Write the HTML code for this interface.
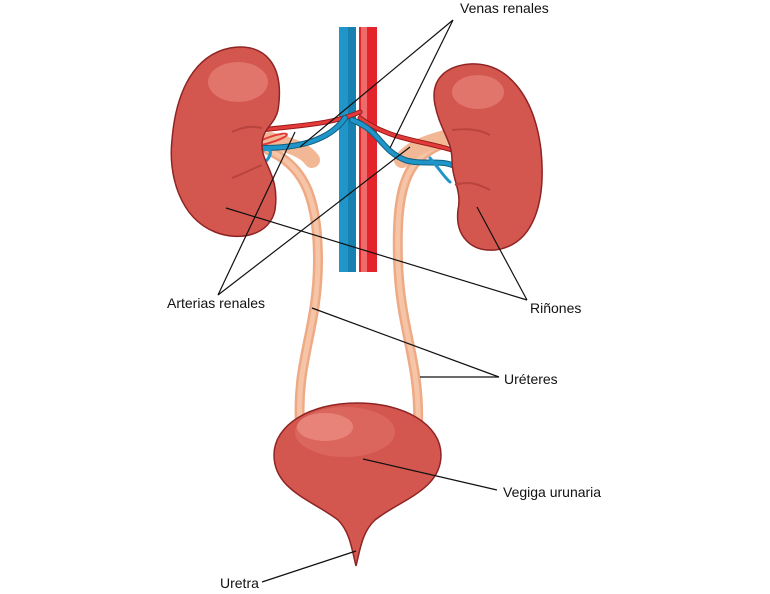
<!DOCTYPE html>
<html><head><meta charset="utf-8"><style>
html,body{margin:0;padding:0;background:#fff;width:770px;height:594px;overflow:hidden}
text{font-family:"Liberation Sans",sans-serif;font-size:14px;fill:#111}
</style></head><body>
<svg width="770" height="594" viewBox="0 0 770 594" xmlns="http://www.w3.org/2000/svg">
<!-- ureters -->
<g fill="none" stroke-linecap="round">
<path d="M268,150 C300,165 318,190 318,260 C318,330 296,360 300,425" stroke="#eeaa85" stroke-width="10"/>
<path d="M268,150 C300,165 318,190 318,260 C318,330 296,360 300,425" stroke="#f6c4a6" stroke-width="5"/>
<path d="M440,145 C405,160 396,190 398,260 C400,330 420,360 418,425" stroke="#eeaa85" stroke-width="10"/>
<path d="M440,145 C405,160 396,190 398,260 C400,330 420,360 418,425" stroke="#f6c4a6" stroke-width="5"/>
<path d="M270,140 C290,145 305,150 312,160" stroke="#f2b896" stroke-width="16"/>
<path d="M445,138 C420,145 410,150 402,160" stroke="#f2b896" stroke-width="16"/>
</g>
<!-- vessels -->
<rect x="339" y="27" width="17" height="245" fill="#1f95c9"/>
<rect x="348" y="27" width="8" height="245" fill="#1680b0"/>
<rect x="359" y="27" width="18" height="245" fill="#e3242b"/>
<rect x="361" y="27" width="6" height="245" fill="#ef6a6a"/>
<g fill="none" stroke-linecap="round">
<path d="M262,130 C300,125 330,125 360,112" stroke="#9a1a1a" stroke-width="5"/>
<path d="M262,130 C300,125 330,125 360,112" stroke="#e33a3a" stroke-width="3"/>
<path d="M262,140 C290,128 300,135 262,145" stroke="#e33a3a" stroke-width="2"/>
<path d="M360,118 C390,140 420,140 452,150" stroke="#9a1a1a" stroke-width="5"/>
<path d="M360,118 C390,140 420,140 452,150" stroke="#e33a3a" stroke-width="3"/>
<path d="M263,148 C300,148 330,140 345,118" stroke="#10607f" stroke-width="6"/>
<path d="M263,148 C300,148 330,140 345,118" stroke="#1f95c9" stroke-width="4"/>
<path d="M263,150 C275,147 270,158 265,162" stroke="#1f95c9" stroke-width="3"/>
<path d="M352,120 C380,130 380,150 405,160 C420,165 440,160 452,165" stroke="#10607f" stroke-width="6"/>
<path d="M352,120 C380,130 380,150 405,160 C420,165 440,160 452,165" stroke="#1f95c9" stroke-width="4"/>
<path d="M430,158 C440,170 445,178 450,182" stroke="#1f95c9" stroke-width="3"/>
</g>
<!-- left kidney -->
<path d="M230,48 C265,42 285,65 278,110 C275,125 262,128 262,145 C262,165 280,175 275,210 C270,235 240,242 215,232 C180,218 168,175 172,140 C176,90 195,55 230,48 Z" fill="#d4574f" stroke="#8f2424" stroke-width="1.5"/>
<ellipse cx="238" cy="82" rx="30" ry="20" fill="#e37970" opacity="0.85"/>
<path d="M262,128 C250,125 240,128 232,132 M262,165 C250,170 240,175 232,178" stroke="#b8443d" stroke-width="2" fill="none"/>
<!-- right kidney -->
<path d="M470,64 C510,62 535,100 541,150 C546,200 535,245 495,250 C470,252 455,235 458,210 C462,190 452,180 452,160 C452,140 440,130 435,105 C430,80 445,66 470,64 Z" fill="#d4574f" stroke="#8f2424" stroke-width="1.5"/>
<ellipse cx="478" cy="92" rx="26" ry="17" fill="#e37970" opacity="0.85"/>
<path d="M452,130 C470,128 480,130 490,135 M455,185 C470,180 480,185 490,190" stroke="#b8443d" stroke-width="2" fill="none"/>
<!-- bladder -->
<path d="M357,403 C405,403 441,425 441,455 C441,490 400,500 375,520 C362,532 360,550 356,566 C352,550 350,532 338,520 C312,500 274,490 274,455 C274,425 310,403 357,403 Z" fill="#d4574f" stroke="#8f2424" stroke-width="1.5"/>
<ellipse cx="345" cy="432" rx="50" ry="25" fill="#dc6a61" opacity="0.8"/>
<ellipse cx="325" cy="427" rx="28" ry="14" fill="#e8837a"/>
<!-- leader lines -->
<g stroke="#111" stroke-width="1.2" fill="none">
<line x1="453" y1="20" x2="300" y2="147"/>
<line x1="453" y1="20" x2="390" y2="148"/>
<line x1="218" y1="295" x2="295" y2="132"/>
<line x1="218" y1="295" x2="410" y2="147"/>
<line x1="527" y1="300" x2="226" y2="208"/>
<line x1="527" y1="300" x2="477" y2="207"/>
<line x1="499" y1="377" x2="312" y2="308"/>
<line x1="499" y1="377" x2="420" y2="377"/>
<line x1="497" y1="490" x2="363" y2="459"/>
<line x1="262" y1="582" x2="356" y2="551"/>
</g>
<text x="460" y="13">Venas renales</text>
<text x="167" y="308">Arterias renales</text>
<text x="530" y="313">Riñones</text>
<text x="504" y="384">Uréteres</text>
<text x="503" y="497">Vegiga urunaria</text>
<text x="220" y="588">Uretra</text>
</svg>
</body></html>
